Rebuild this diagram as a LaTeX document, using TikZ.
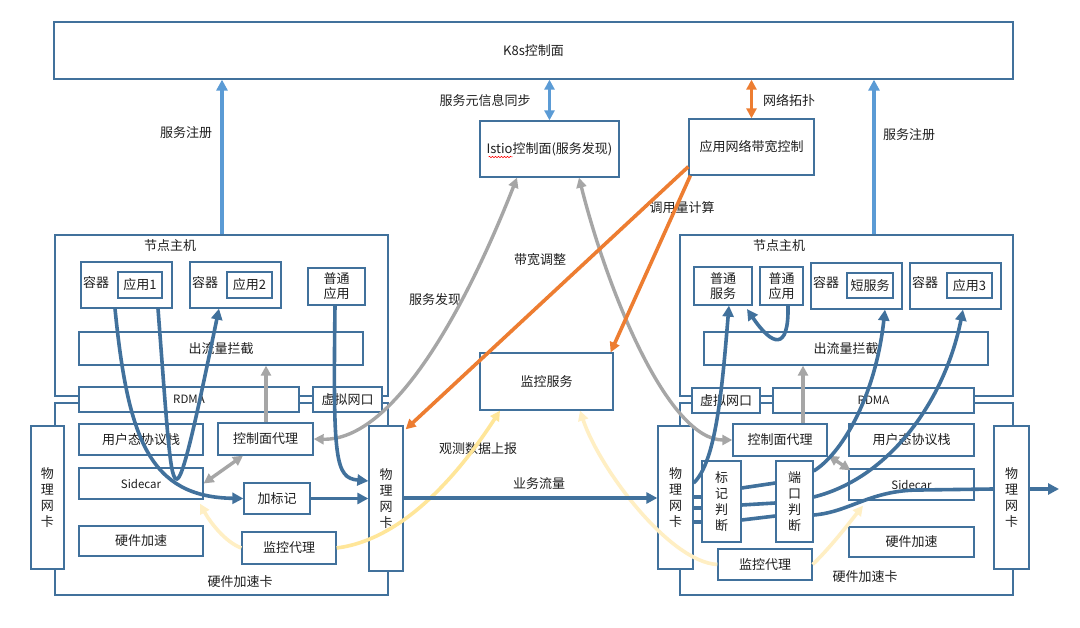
\documentclass[tikz,border=0pt]{standalone}
\usepackage{fontspec}
\setmainfont{Noto Sans CJK SC}
\usetikzlibrary{arrows.meta,calc,decorations.pathmorphing}
\definecolor{bd}{HTML}{41719C}
\definecolor{lb}{HTML}{5B9BD5}
\definecolor{og}{HTML}{ED7D31}
\definecolor{gy}{HTML}{A6A6A6}
\definecolor{yl}{HTML}{FFE699}
\definecolor{yltwo}{HTML}{FFEFC4}
\definecolor{tx}{HTML}{1F1F1F}
\tikzset{
  box/.style={draw=bd, line width=1.3pt, fill=white, inner sep=0pt, text=tx,
    font=\fontsize{13}{15}\selectfont, align=center},
  lbl/.style={text=tx, font=\fontsize{13}{15}\selectfont, inner sep=0pt},
  small/.style={font=\fontsize{11.5}{13}\selectfont},
  vtext/.style={font=\fontsize{13}{16}\selectfont},
  tipA/.tip={Triangle[length=11pt,width=11pt]},
  tipB/.tip={Triangle[length=10pt,width=10pt]},
  flow/.style={draw=bd, line width=3.6pt, -tipA},
  flowline/.style={draw=bd, line width=3.6pt},
  reg/.style={draw=lb, line width=3.6pt, -tipA},
  regboth/.style={draw=lb, line width=3.6pt, tipB-tipB},
  ctl/.style={draw=gy, line width=3.4pt, -tipB},
  ctlboth/.style={draw=gy, line width=3.4pt, tipB-tipB},
  bwarr/.style={draw=og, line width=3.6pt, -tipB},
  bwboth/.style={draw=og, line width=3.6pt, tipB-tipB},
  mon/.style={draw=yl, line width=3.6pt, -tipB},
  montwo/.style={draw=yltwo, line width=3.6pt, -tipB},
}
\newcommand\BX[7][]{\node[box,minimum width={(#5-#3)*1pt},minimum height={(#6-#4)*1pt},#1] (#2) at ({(#3+#5)/2},{(#4+#6)/2}) {#7};}
\begin{document}
\begin{tikzpicture}[x=1pt,y=-1pt]
\fill[white] (0,0) rectangle (1080,628);
\useasboundingbox (0,0) rectangle (1080,628);

% top
\BX{K8s}{54}{22}{1013}{79}{K8s控制面}
\BX{Istio}{480}{121}{619}{177}{Istio控制面(服务发现)}
\draw[red, line width=0.5pt, decorate, decoration={snake, amplitude=0.7pt, segment length=3pt}]
  ($(Istio.center)+(-61,8)$) -- ($(Istio.center)+(-37,8)$);
\BX{BW}{689}{119}{814}{175}{应用网络带宽控制}
\BX{MonSvc}{480}{353}{613}{410}{监控服务}

% left host
\BX{LH}{55}{235}{388}{396}{}
\BX{LC}{55}{403}{388}{595}{}
\node[lbl] (LHt) at (170,246) {节点主机};
\node[lbl] (LCt) at (240,582) {硬件加速卡};
\BX{LCon1}{81}{262}{172}{308}{}
\node[lbl] (LCon1t) at (96,283) {容器};
\BX{LApp1}{118}{272}{162}{298}{应用1}
\BX{LCon2}{190}{262}{281}{308}{}
\node[lbl] (LCon2t) at (205,283) {容器};
\BX{LApp2}{227}{272}{272}{298}{应用2}
\BX{LPlain}{308}{268}{365}{305}{普通\\应用}
\BX{LOut}{79}{332}{363}{365}{出流量拦截}
\BX[small]{LRDMA}{79}{387}{299}{412}{RDMA}
\BX{LVNet}{313}{387}{382}{412}{虚拟网口}
\BX{LUser}{79}{424}{203}{455}{用户态协议栈}
\BX{LCtrl}{218}{423}{313}{455}{控制面代理}
\BX[small]{LSide}{79}{468}{203}{499}{Sidecar}
\BX{LMark}{244}{483}{310}{514}{加标记}
\BX{LHW}{79}{526}{203}{556}{硬件加速}
\BX{LMon}{242}{532}{336}{564}{监控代理}
\BX[vtext]{LNic1}{31}{426}{64}{569}{物\\理\\网\\卡}
\BX[vtext]{LNic2}{369}{426}{403}{571}{物\\理\\网\\卡}

% right host
\BX{RH}{680}{235}{1013}{396}{}
\BX{RC}{680}{403}{1013}{595}{}
\node[lbl] (RHt) at (779,246) {节点主机};
\node[lbl] (RCt) at (865,577) {硬件加速卡};
\BX{RSvc}{694}{267}{752}{305}{普通\\服务}
\BX{RPlain}{760}{267}{803}{305}{普通\\应用}
\BX{RCon1}{811}{263}{902}{309}{}
\node[lbl] (RCon1t) at (826,283) {容器};
\BX{RShort}{847}{273}{893}{298}{短服务}
\BX{RCon2}{910}{263}{1001}{309}{}
\node[lbl] (RCon2t) at (925,283) {容器};
\BX{RApp3}{947}{273}{992}{298}{应用3}
\BX{ROut}{704}{332}{988}{365}{出流量拦截}
\BX{RVNet}{692}{388}{760}{413}{虚拟网口}
\BX[small]{RRDMA}{773}{388}{974}{413}{RDMA}
\BX{RCtrl}{733}{424}{827}{456}{控制面代理}
\BX{RUser}{849}{424}{974}{456}{用户态协议栈}
\BX[small]{RSide}{849}{469}{974}{500}{Sidecar}
\BX{RHW}{849}{527}{974}{557}{硬件加速}
\BX{RMon}{718}{549}{812}{580}{监控代理}
\BX[vtext]{RNic1}{658}{426}{693}{569}{物\\理\\网\\卡}
\BX[vtext]{RTag}{702}{461}{741}{542}{标\\记\\判\\断}
\BX[vtext]{RPort}{776}{461}{813}{542}{端\\口\\判\\断}
\BX[vtext]{RNic2}{994}{426}{1029}{569}{物\\理\\网\\卡}
\coordinate (out) at (1059,489);

% labels
\node[lbl] (l1) at (186,133) {服务注册};
\node[lbl] (l2) at (909,135) {服务注册};
\node[lbl] (l3) at (485,101) {服务元信息同步};
\node[lbl] (l4) at (789,100) {网络拓扑};
\node[lbl] (l5) at (682,208) {调用量计算};
\node[lbl] (l6) at (540,260) {带宽调整};
\node[lbl] (l7) at (435,300) {服务发现};
\node[lbl] (l8) at (478,449) {观测数据上报};
\node[lbl] (l9) at (539,484) {业务流量};

% light blue / orange top arrows
\draw[reg] (222,0 |- LH.north) -- (222,0 |- K8s.south);
\draw[reg] (874,0 |- RH.north) -- (874,0 |- K8s.south);
\draw[regboth] (Istio.north) -- (Istio.north |- K8s.south);
\draw[bwboth] (BW.north) -- (BW.north |- K8s.south);

% gray
\draw[ctl] (266,0 |- LCtrl.north) -- (266,0 |- LOut.south);
\draw[ctlboth] (LSide.east) -- (243,0 |- LCtrl.south);
\draw[ctlboth] (LCtrl.east) .. controls (393,441) and (465,310) .. (517,0 |- Istio.south);
\draw[ctlboth] (579,0 |- Istio.south) .. controls (610,300) and (670,440) .. (RCtrl.west);
\draw[ctl] (803,0 |- RCtrl.north) -- (803,0 |- ROut.south);
\draw[ctlboth] ($(RCtrl.south east)+(1,-1)$) -- ($(RSide.north west)+(2,2)$);

% orange
\draw[bwarr] ($(BW.south west)+(0,-9)$) -- ($(LNic2.north east)+(2,4)$);
\draw[bwarr] ($(BW.south west)+(2,0)$) -- ($(MonSvc.north east)+(-3,0)$);

% yellow
\draw[mon] (LMon.east) .. controls (400,540) and (455,480) .. (500,0 |- MonSvc.south);
\draw[montwo] (LMon.west) .. controls (225,542) and (210,522) .. ($(200,0 |- LSide.south)+(0,4)$);
\draw[montwo] (RMon.west) .. controls (670,562) and (600,470) .. (580,0 |- MonSvc.south);
\draw[montwo] (RMon.east) .. controls (830,548) and (850,522) .. ($(863,0 |- RSide.south)+(0,5)$);

% blue left
\draw[flow] (115,0 |- LCon1.south) .. controls (128,440) and (150,497) .. (LMark.west);
\draw[flow] (158,0 |- LCon1.south) .. controls (168,440) and (170,480) .. (177,479)
  .. controls (184,478) and (200,400) .. (219,0 |- LCon2.south);
\draw[flow] (335,0 |- LPlain.south) .. controls (333,460) and (335,478) .. (LNic2.west |- 0,481);
\draw[flow] (LMark.east) -- (LMark.east -| LNic2.west);
\draw[flow] (LNic2.east |- 0,498) -- (RNic1.west |- 0,498);

% blue right
\draw[flow] (RNic1.east |- 0,483) .. controls (716,462) and (722,390) .. (729,0 |- RSvc.south);
\draw[flow] (788,0 |- RPlain.south) .. controls (789,352) and (772,346) .. (747,309);
\draw[flowline] (RNic1.east |- 0,497) -- (RTag.west |- 0,497);
\draw[flowline] (RNic1.east |- 0,508) -- (RTag.west |- 0,508);
\draw[flowline] (RNic1.east |- 0,522) -- (RTag.west |- 0,522);
\draw[flowline] (RTag.east |- 0,488) -- (RPort.west |- 0,483);
\draw[flowline] (RTag.east |- 0,505) -- (RPort.west |- 0,503);
\draw[flowline] (RTag.east |- 0,520) -- (RPort.west |- 0,516);
\draw[flow] (RPort.east |- 0,471) .. controls (840,455) and (875,400) .. (885,0 |- RCon1.south);
\draw[flow] (RPort.east |- 0,497) .. controls (890,478) and (945,400) .. (963,0 |- RCon2.south);
\draw[flowline] (RPort.east |- 0,515) .. controls (850,512) and (870,490) .. (920,490) -- (RNic2.west |- 0,489);
\draw[flow] (RNic2.east |- 0,489) -- (out);
\end{tikzpicture}
\end{document}
